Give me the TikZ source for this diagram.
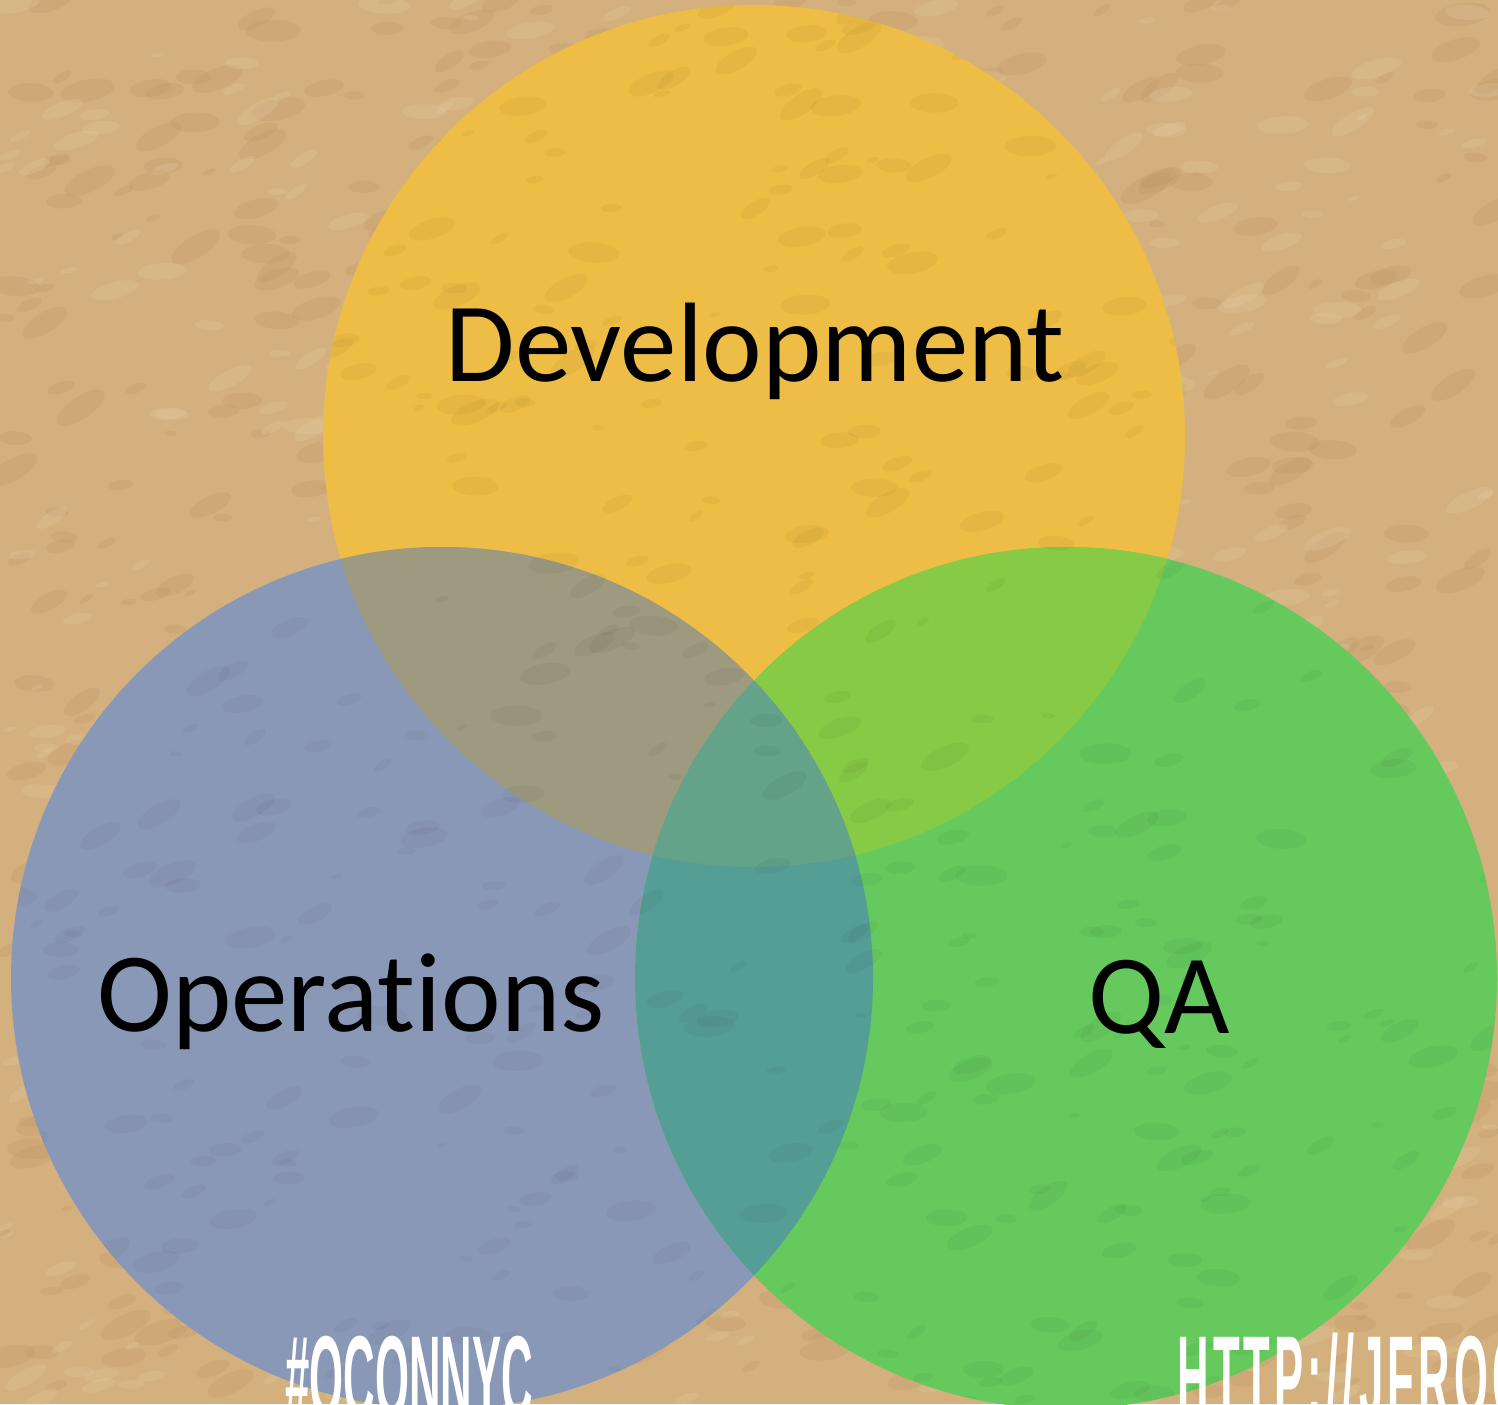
\documentclass[tikz,border=0pt]{standalone}
\usepackage{fontspec}
\usepackage{tikz}
\setmainfont[Ligatures={NoCommon,NoRare}]{Carlito}
\newfontfamily\tagfont[FakeStretch=0.37]{Liberation Sans Bold}
\newfontfamily\urlfont[FakeStretch=0.37,LetterSpace=3.5]{Liberation Sans Bold}

\definecolor{sand}{HTML}{D4B07E}
\definecolor{sanddark}{HTML}{A87C48}
\definecolor{sandlight}{HTML}{EAD3AE}
\definecolor{devfill}{HTML}{EEBD45}
\definecolor{opsfill}{HTML}{8A98B7}
\definecolor{qafill}{HTML}{65C95E}
\definecolor{devops}{HTML}{9E9A80}
\definecolor{devqa}{HTML}{86CA46}
\definecolor{opsqa}{HTML}{559E96}
\definecolor{core}{HTML}{64A28A}

\tikzset{
  setlabel/.style={anchor=base, inner sep=0.75pt, font=\fontsize{56.5}{60}\selectfont, text=black},
  taglabel/.style={anchor=base west, inner sep=0pt, font=\tagfont\fontsize{59}{60}\selectfont, text=white},
  grain/.style={opacity=#1, rotate around={\ang:(\px,\py)}}
}

\begin{document}
\begin{tikzpicture}[x=0.5pt,y=0.5pt,yscale=-1,xscale=1]
\useasboundingbox (0,0) rectangle (1498,1404);
\clip (0,0) rectangle (1498,1404);

% sand backdrop
\fill [sand] (0,0) rectangle (1498,1404);
\pgfmathsetseed{41}
\foreach \i in {1,...,700}{
  \pgfmathsetmacro\px{rnd*1498}
  \pgfmathsetmacro\py{rnd*1404}
  \pgfmathsetmacro\ang{-35+rnd*40}
  \pgfmathsetmacro\rx{6+rnd*22}
  \fill [sanddark, grain=0.12] (\px,\py) ellipse ({\rx} and {\rx/2.5});
}
\foreach \i in {1,...,500}{
  \pgfmathsetmacro\px{rnd*1498}
  \pgfmathsetmacro\py{rnd*1404}
  \pgfmathsetmacro\ang{-35+rnd*40}
  \pgfmathsetmacro\rx{6+rnd*20}
  \fill [sandlight, grain=0.2] (\px,\py) ellipse ({\rx} and {\rx/3});
}

% circle centres
\coordinate (dev) at (754,436);
\coordinate (ops) at (442,978);
\coordinate (qa) at (1066,978);
\def\rad{431}

% the three sets
\fill [devfill] (dev) circle (\rad);
\fill [opsfill] (ops) circle (\rad);
\fill [qafill] (qa) circle (\rad);

% pairwise overlaps
\begin{scope}
  \clip (dev) circle (\rad);
  \fill [devops] (ops) circle (\rad);
  \fill [devqa] (qa) circle (\rad);
\end{scope}
\begin{scope}
  \clip (ops) circle (\rad);
  \fill [opsqa] (qa) circle (\rad);
\end{scope}
% middle of all three
\begin{scope}
  \clip (dev) circle (\rad);
  \clip (ops) circle (\rad);
  \fill [core] (qa) circle (\rad);
\end{scope}

% faint grain over the discs
\begin{scope}
  \clip (dev) circle (\rad) (ops) circle (\rad) (qa) circle (\rad);
  \foreach \i in {1,...,500}{
    \pgfmathsetmacro\px{rnd*1498}
    \pgfmathsetmacro\py{rnd*1404}
    \pgfmathsetmacro\ang{-35+rnd*40}
    \pgfmathsetmacro\rx{6+rnd*20}
    \fill [black, grain=0.035] (\px,\py) ellipse ({\rx} and {\rx/2.5});
  }
\end{scope}

% Text Node
\node (devtext) [setlabel] at (755,381) {Development};
% Text Node
\node (opstext) [setlabel] at (351,1031) {Operations};
% Text Node
\node (qatext) [setlabel] at (1159,1033) {QA};

% footer tags
\node (hashtag) [taglabel] at (285,1418) {\#QCONNYC};
\node (siteurl) [taglabel, font=\urlfont\fontsize{59}{60}\selectfont] at (1177,1418) {HTTP://JFROG};
\end{tikzpicture}
\end{document}
